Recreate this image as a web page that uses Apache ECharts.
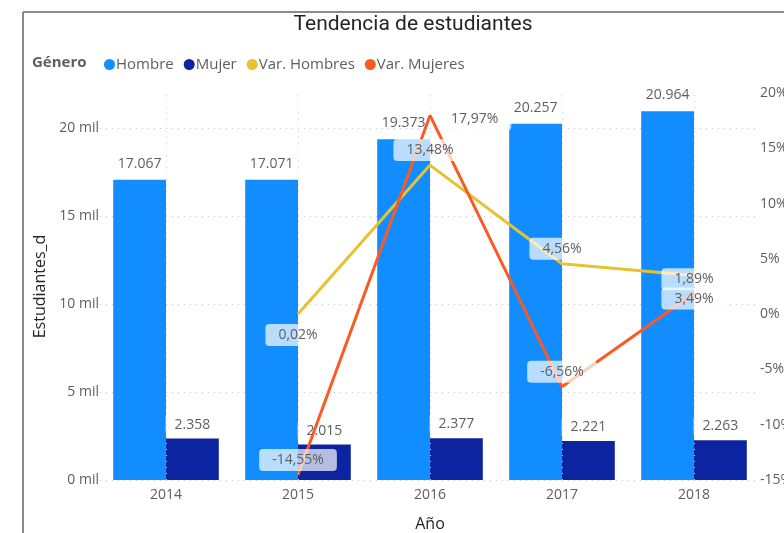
<!DOCTYPE html>
<html>
<head>
<meta charset="utf-8">
<script src="https://cdn.jsdelivr.net/npm/echarts@6/dist/echarts.min.js"></script>
<style>
  html, body { margin: 0; padding: 0; background: #fff; overflow: hidden; }
  #chart { width: 784px; height: 533px; }
</style>
</head>
<body>
<div id="chart"></div>
<script>
// Students per year by gender, with year-over-year variation
const categories = ['2014', '2015', '2016', '2017', '2018'];
const hombre = [17067, 17071, 19373, 20257, 20964];
const mujer = [2358, 2015, 2377, 2221, 2263];
const varHombres = [null, 0.02, 13.48, 4.56, 3.49];
const varMujeres = [null, -14.55, 17.97, -6.56, 1.89];

// Label placement for each line point: [position, distance, dy]
const varHombresLabelPos = [null, ['bottom', 10, 0], ['top', 4, 0], ['top', 4, 0], ['bottom', 12, 0]];
const varMujeresLabelPos = [null, ['top', 4, 0], ['right', 8, 4], ['top', 4, 0], ['top', 3, 0]];

const FONT = 'Open Sans';
const GRAY = '#605E5C';

const thousands = v => String(v).replace(/\B(?=(\d{3})+(?!\d))/g, '.');
const pct = v => v.toFixed(2).replace('.', ',') + '%';

const labelBox = {
  backgroundColor: 'rgba(255,255,255,0.7)',
  padding: [4, 13],
  borderRadius: 4,
  color: GRAY,
  fontFamily: FONT,
  fontSize: 13
};

function lineData(values, placement) {
  return values.map((v, i) => {
    if (v === null) return null;
    const p = placement[i];
    return {
      value: v,
      label: { position: p[0], distance: p[1], offset: [0, p[2]] }
    };
  });
}

const chart = echarts.init(document.getElementById('chart'));

chart.setOption({
  animation: false,
  textStyle: { fontFamily: FONT },
  graphic: [
    { type: 'line', shape: { x1: 23, y1: 12, x2: 23, y2: 533 }, style: { stroke: '#8a8a8a', lineWidth: 2 } },
    { type: 'line', shape: { x1: 23, y1: 12, x2: 784, y2: 12 }, style: { stroke: '#8a8a8a', lineWidth: 2 } },
    {
      type: 'text', x: 413, y: 25,
      style: { text: 'Tendencia de estudiantes', fill: '#252423', font: '21px Roboto', align: 'center', verticalAlign: 'middle' }
    },
    {
      type: 'text', x: 32, y: 63,
      style: { text: 'Género', fill: GRAY, font: 'bold 15px "' + FONT + '"', align: 'left', verticalAlign: 'middle' }
    }
  ],
  legend: {
    data: ['Hombre', 'Mujer', 'Var. Hombres', 'Var. Mujeres'],
    left: 99, top: 52,
    icon: 'circle', itemWidth: 11, itemHeight: 11, itemGap: 10,
    textStyle: { color: GRAY, fontSize: 15, fontFamily: FONT, padding: [0, 0, 0, -4] }
  },
  grid: { left: 100, right: 24, top: 93, bottom: 53, outerBoundsMode: 'none', containLabel: false },
  xAxis: {
    type: 'category',
    data: categories,
    name: 'Año',
    nameLocation: 'middle',
    nameGap: 36,
    nameTextStyle: { color: '#252423', fontSize: 16 },
    axisLine: { show: false },
    axisTick: { show: false },
    axisLabel: { color: GRAY, fontSize: 14, margin: 8 }
  },
  yAxis: [
    {
      type: 'value', min: 0, max: 22000, interval: 5000,
      name: 'Estudiantes_d',
      nameLocation: 'middle',
      nameGap: 50,
      nameTextStyle: { color: '#252423', fontSize: 16 },
      axisLabel: {
        color: GRAY, fontSize: 14, margin: 1, showMaxLabel: false,
        formatter: v => (v / 1000) + ' mil'
      },
      splitLine: { show: true, showMaxLine: false, lineStyle: { color: '#c8c8c8', type: [1, 5], width: 1 } }
    },
    {
      type: 'value', min: -15, max: 20, interval: 5,
      position: 'right',
      axisLabel: { color: GRAY, fontSize: 14, margin: 0, formatter: v => v + '%' },
      splitLine: { show: false }
    }
  ],
  series: [
    {
      name: 'guides',
      type: 'line',
      data: [],
      z: 0,
      silent: true,
      markLine: {
        silent: true,
        symbol: 'none',
        label: { show: false },
        lineStyle: { color: '#cfcfcf', type: [1, 5], width: 1 },
        data: categories.map(c => ({ xAxis: c }))
      }
    },
    {
      name: 'Hombre',
      type: 'bar',
      data: hombre,
      barGap: '0%',
      barCategoryGap: '20%',
      itemStyle: { color: '#118DFF' },
      label: Object.assign({}, labelBox, {
        show: true, position: 'top', distance: 5, backgroundColor: 'transparent',
        fontSize: 14, formatter: p => thousands(p.value)
      })
    },
    {
      name: 'Mujer',
      type: 'bar',
      data: mujer,
      itemStyle: { color: '#0C24A0' },
      label: Object.assign({}, labelBox, {
        show: true, position: 'top', distance: 3, padding: [4, 9],
        fontSize: 14, formatter: p => thousands(p.value)
      })
    },
    {
      name: 'Var. Hombres',
      type: 'line',
      yAxisIndex: 1,
      data: lineData(varHombres, varHombresLabelPos),
      symbol: 'circle',
      symbolSize: 0.1,
      showSymbol: true,
      lineStyle: { color: '#E8C130', width: 3 },
      itemStyle: { color: '#E8C130' },
      label: Object.assign({}, labelBox, { show: true, fontSize: 14, formatter: p => pct(p.value) })
    },
    {
      name: 'Var. Mujeres',
      type: 'line',
      yAxisIndex: 1,
      data: lineData(varMujeres, varMujeresLabelPos),
      symbol: 'circle',
      symbolSize: 0.1,
      showSymbol: true,
      lineStyle: { color: '#FA5A23', width: 3 },
      itemStyle: { color: '#FA5A23' },
      label: Object.assign({}, labelBox, { show: true, fontSize: 14, formatter: p => pct(p.value) })
    }
  ]
});
</script>
</body>
</html>
